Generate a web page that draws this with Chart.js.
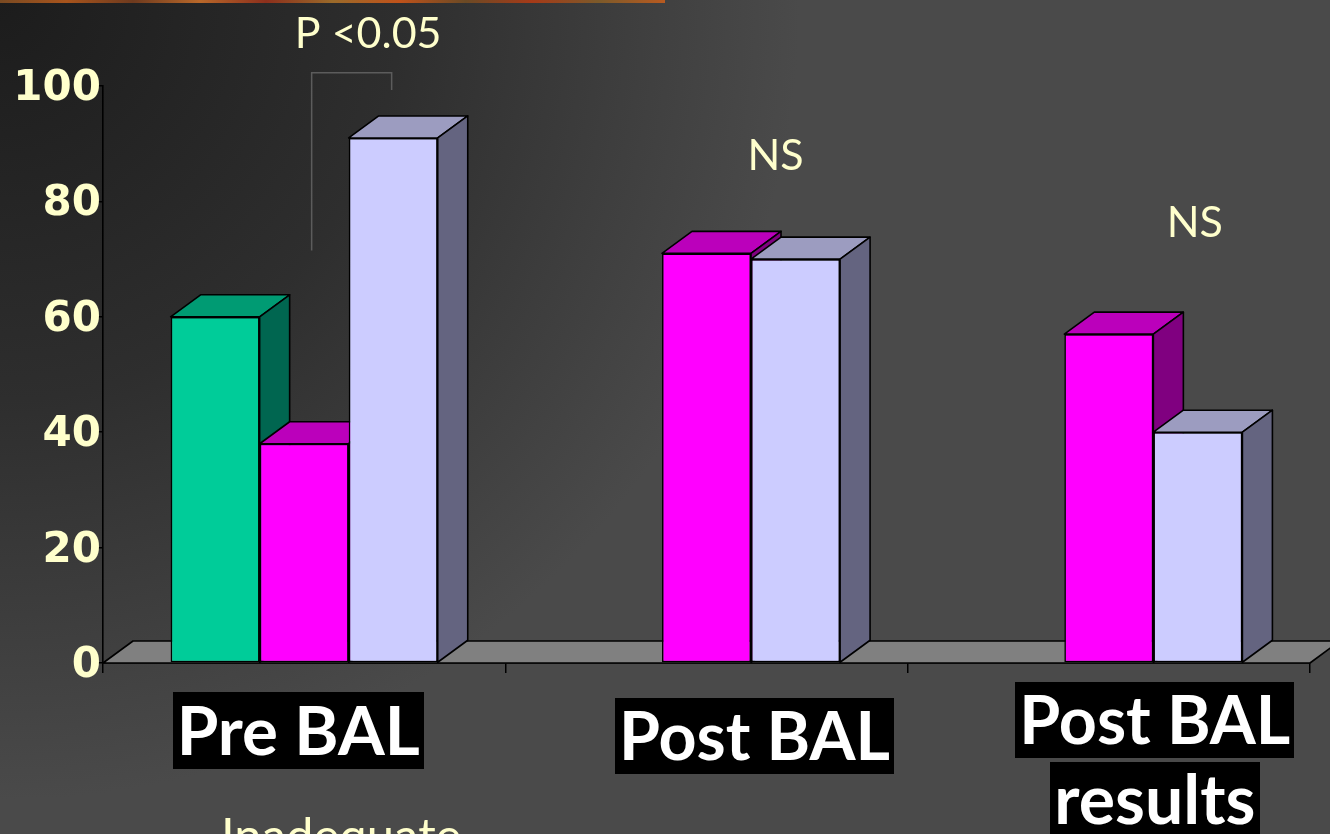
<!DOCTYPE html>
<html>
<head>
<meta charset="utf-8">
<script src="https://cdn.jsdelivr.net/npm/chart.js@4.4.0/dist/chart.umd.min.js"></script>
<style>
  html, body { margin: 0; padding: 0; background: #1c1c1c; overflow: hidden; }
  canvas { display: block; }
</style>
</head>
<body>
<canvas id="c" width="1330" height="834"></canvas>
<script>
// ---- data ----
const categories = [['Pre BAL'], ['Post BAL'], ['Post BAL', 'results']];
const greenValues = [60, null, null];
const magentaValues = [38, 71, 57];
const lavenderValues = [91, 70, 40];
const yTickValues = [0, 20, 40, 60, 80, 100];
const significance = ['P <0.05', 'NS', 'NS'];
const footText = 'Inadequate';

// ---- styling ----
const faceColors = [
  { front: '#00CC99', top: '#009B73', side: '#006650' },
  { front: '#FF00FF', top: '#BB00BB', side: '#800080' },
  { front: '#CCCCFF', top: '#9C9CC0', side: '#646480' }
];
const depth = { dx: 30, dy: -22 };
const cream = '#FFFFCC';

// where the black label plates sit, relative to each category centre
const labelLayout = [
  { dx: -6, top: 692, plates: [{ w: 251, h: 77 }] },
  { dx: 48, top: 698, plates: [{ w: 279, h: 76 }] },
  { dx: 46, top: 682, plates: [{ w: 279, h: 76 }, { w: 210, h: 76 }], gap: 4 }
];
// significance text: category index, pixel offset from category centre, value level of baseline
const sigLayout = [
  { cat: 0, dx: 64, value: 106.5 },
  { cat: 1, dx: 69, value: 85.5 },
  { cat: 2, dx: 86, value: 73.8 }
];

// background: dark corner fading to mid grey, plus a thin textured strip along the top
const backdrop = {
  id: 'backdrop',
  beforeDraw(chart) {
    const { ctx, width, height } = chart;
    ctx.save();
    const g = ctx.createRadialGradient(0, 0, 0, 0, 0, 800);
    g.addColorStop(0, '#1c1c1c');
    g.addColorStop(0.5, '#2e2e2e');
    g.addColorStop(1, '#4a4a4a');
    ctx.fillStyle = g;
    ctx.fillRect(0, 0, width, height);
    const s = ctx.createLinearGradient(0, 0, 665, 0);
    const strip = ['#7a4a22', '#a8541c', '#6e3a1e', '#b9682a', '#8c2f1c', '#9a6a2a', '#c0521a', '#6b4a25', '#a63a18', '#7c5a2a', '#b85a20'];
    strip.forEach((c, i) => s.addColorStop(i / (strip.length - 1), c));
    ctx.fillStyle = s;
    ctx.fillRect(0, 0, 665, 3);
    ctx.restore();
  }
};

// floor slab and the top/side faces of every bar, drawn left to right
const bar3d = {
  id: 'bar3d',
  beforeDatasetsDraw(chart) {
    const { ctx, chartArea, scales } = chart;
    const y0 = scales.y.getPixelForValue(0);
    const { dx, dy } = depth;
    ctx.save();
    ctx.lineJoin = 'round';
    ctx.lineWidth = 1.6;
    ctx.strokeStyle = '#000';
    ctx.beginPath();
    ctx.moveTo(chartArea.left, y0);
    ctx.lineTo(chartArea.right, y0);
    ctx.lineTo(chartArea.right + dx, y0 + dy);
    ctx.lineTo(chartArea.left + dx, y0 + dy);
    ctx.closePath();
    ctx.fillStyle = '#808080';
    ctx.fill();
    ctx.stroke();

    const bars = [];
    chart.data.datasets.forEach((ds, di) => {
      const meta = chart.getDatasetMeta(di);
      meta.data.forEach((el, i) => {
        if (ds.data[i] == null) return;
        const p = el.getProps(['x', 'y', 'base', 'width'], true);
        bars.push({ l: p.x - p.width / 2, r: p.x + p.width / 2, t: p.y, b: p.base, c: faceColors[di] });
      });
    });
    bars.sort((a, b) => a.l - b.l);
    const poly = (pts, fill) => {
      ctx.beginPath();
      ctx.moveTo(pts[0][0], pts[0][1]);
      for (let k = 1; k < pts.length; k++) ctx.lineTo(pts[k][0], pts[k][1]);
      ctx.closePath();
      ctx.fillStyle = fill;
      ctx.fill();
      ctx.stroke();
    };
    bars.forEach(b => {
      poly([[b.l, b.t], [b.r, b.t], [b.r + dx, b.t + dy], [b.l + dx, b.t + dy]], b.c.top);
      poly([[b.r, b.t], [b.r + dx, b.t + dy], [b.r + dx, b.b + dy], [b.r, b.b]], b.c.side);
    });
    ctx.restore();
  }
};

// category plates, significance notes, bracket and the footer word
const overlay = {
  id: 'overlay',
  afterDraw(chart) {
    const { ctx, scales } = chart;
    const xs = scales.x, ys = scales.y;
    ctx.save();

    // category labels in white on black plates
    categories.forEach((lines, i) => {
      const lay = labelLayout[i];
      const cx = xs.getPixelForValue(i) + lay.dx;
      let top = lay.top;
      lines.forEach((line, j) => {
        const plate = lay.plates[j];
        ctx.fillStyle = '#000';
        ctx.fillRect(Math.round(cx - plate.w / 2), top, plate.w, plate.h);
        let size = 68;
        ctx.font = `bold ${size}px Lato, "Open Sans", sans-serif`;
        const w = ctx.measureText(line).width;
        const maxW = plate.w - 8;
        if (w > maxW) { size = size * maxW / w; ctx.font = `bold ${size}px Lato, "Open Sans", sans-serif`; }
        ctx.fillStyle = '#fff';
        ctx.textAlign = 'center';
        ctx.textBaseline = 'alphabetic';
        ctx.fillText(line, cx, top + plate.h / 2 + size * 0.36);
        top += plate.h + (lay.gap || 0);
      });
    });

    // significance notes
    ctx.fillStyle = cream;
    ctx.textAlign = 'center';
    ctx.textBaseline = 'alphabetic';
    ctx.font = '43px Lato, "Open Sans", sans-serif';
    significance.forEach((txt, i) => {
      const s = sigLayout[i];
      ctx.fillText(txt, xs.getPixelForValue(s.cat) + s.dx, ys.getPixelForValue(s.value));
    });

    // bracket over the first group
    const c0 = xs.getPixelForValue(0);
    ctx.strokeStyle = '#5c5c5c';
    ctx.lineWidth = 1.5;
    ctx.beginPath();
    ctx.moveTo(c0 + 7.5, ys.getPixelForValue(71.5));
    ctx.lineTo(c0 + 7.5, ys.getPixelForValue(102.3));
    ctx.lineTo(c0 + 87.5, ys.getPixelForValue(102.3));
    ctx.lineTo(c0 + 87.5, ys.getPixelForValue(99.3));
    ctx.stroke();

    // footer word, running off the bottom edge
    ctx.fillStyle = cream;
    ctx.textAlign = 'left';
    ctx.font = '49px Lato, "Open Sans", sans-serif';
    ctx.fillText(footText, 221, 853);
    ctx.restore();
  }
};

const chart = new Chart(document.getElementById('c'), {
  type: 'bar',
  data: {
    labels: categories,
    datasets: [
      { label: 'Group A', data: greenValues, backgroundColor: faceColors[0].front },
      { label: 'Group B', data: magentaValues, backgroundColor: faceColors[1].front },
      { label: 'Group C', data: lavenderValues, backgroundColor: faceColors[2].front }
    ].map(d => Object.assign(d, {
      borderColor: '#000',
      borderWidth: 1.6,
      borderSkipped: false,
      categoryPercentage: 0.664,
      barPercentage: 1.0
    }))
  },
  options: {
    responsive: false,
    animation: false,
    devicePixelRatio: 1,
    layout: { padding: { top: 86, right: 20, left: 0, bottom: 0 } },
    plugins: { legend: { display: false }, tooltip: { enabled: false } },
    scales: {
      x: {
        grid: { display: true, offset: true, drawOnChartArea: false, drawTicks: true, tickLength: 10, color: '#000', lineWidth: 1.5 },
        border: { display: true, color: '#000', width: 1.6 },
        ticks: { color: 'rgba(0,0,0,0)' },
        afterFit(s) { s.height = 171; }
      },
      y: {
        min: 0,
        max: 100,
        afterBuildTicks(s) { s.ticks = yTickValues.map(v => ({ value: v })); },
        grid: { display: true, drawOnChartArea: false, drawTicks: true, tickLength: 7, color: '#000', lineWidth: 1.5 },
        border: { display: true, color: '#000', width: 1.6 },
        ticks: {
          color: cream,
          padding: -5,
          labelOffset: 3,
          font: { family: '"DejaVu Sans", sans-serif', weight: 'bold', size: 42 }
        },
        afterFit(s) { s.width = 103; }
      }
    }
  },
  plugins: [backdrop, bar3d, overlay]
});
</script>
</body>
</html>
